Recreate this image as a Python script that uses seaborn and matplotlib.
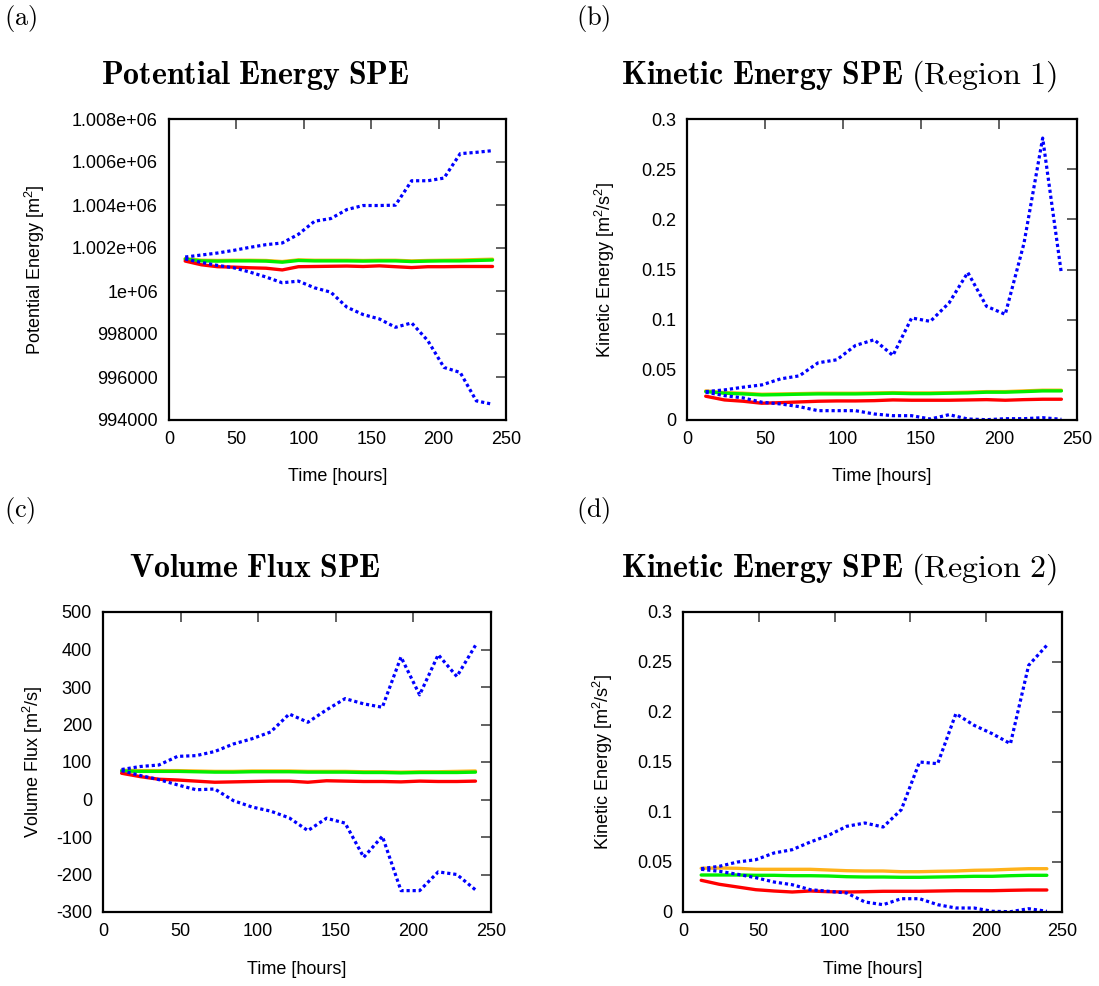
import numpy as np
import pandas as pd
import matplotlib
matplotlib.use("Agg")
import matplotlib.pyplot as plt
import seaborn as sns

# ---------------- data ----------------
time_h = [12, 24, 36, 48, 60, 72, 84, 96, 108, 120, 132, 144, 156, 168, 180, 192, 204, 216, 228, 240]

# (a) Potential energy
pe_upper = [1001580, 1001673, 1001767, 1001891, 1002031, 1002156, 1002233, 1002638, 1003245, 1003369,
            1003789, 1003976, 1003976, 1003992, 1005128, 1005128, 1005252, 1006388, 1006450, 1006528]
pe_lower = [1001487, 1001330, 1001190, 1001080, 1000880, 1000650, 1000382, 1000460, 1000148, 999946,
            999246, 998904, 998701, 998312, 998515, 997690, 996445, 996212, 994889, 994733]
pe_red = [1001393, 1001220, 1001130, 1001110, 1001080, 1001060, 1000980, 1001130, 1001140, 1001150,
          1001160, 1001140, 1001170, 1001130, 1001090, 1001130, 1001130, 1001140, 1001140, 1001140]
pe_green = [1001480, 1001400, 1001390, 1001400, 1001400, 1001390, 1001340, 1001420, 1001400, 1001400,
            1001400, 1001390, 1001400, 1001400, 1001370, 1001390, 1001400, 1001400, 1001420, 1001440]
pe_orange = [1001510, 1001430, 1001420, 1001430, 1001430, 1001420, 1001370, 1001450, 1001430, 1001430,
             1001430, 1001420, 1001430, 1001430, 1001400, 1001420, 1001430, 1001440, 1001460, 1001480]

# (b) Kinetic energy region 1
ke1_upper = [0.0283, 0.0300, 0.0327, 0.0350, 0.0410, 0.0440, 0.0570, 0.0600, 0.0743, 0.0800,
             0.0643, 0.1017, 0.0983, 0.1167, 0.1470, 0.1133, 0.1053, 0.1760, 0.2810, 0.1460]
ke1_lower = [0.0277, 0.0243, 0.0220, 0.0177, 0.0160, 0.0133, 0.0093, 0.0093, 0.0093, 0.0060,
             0.0043, 0.0043, 0.0010, 0.0053, 0.0010, 0.0003, 0.0013, 0.0013, 0.0023, 0.0007]
ke1_red = [0.0237, 0.0200, 0.0187, 0.0167, 0.0173, 0.0180, 0.0187, 0.0190, 0.0190, 0.0193,
           0.0200, 0.0197, 0.0197, 0.0197, 0.0200, 0.0203, 0.0197, 0.0203, 0.0207, 0.0207]
ke1_green = [0.0283, 0.0267, 0.0260, 0.0250, 0.0253, 0.0257, 0.0260, 0.0260, 0.0260, 0.0263,
             0.0267, 0.0263, 0.0263, 0.0267, 0.0270, 0.0277, 0.0277, 0.0283, 0.0290, 0.0290]
ke1_orange = [0.0290, 0.0273, 0.0267, 0.0257, 0.0260, 0.0263, 0.0267, 0.0267, 0.0267, 0.0270,
              0.0273, 0.0270, 0.0270, 0.0273, 0.0277, 0.0283, 0.0283, 0.0290, 0.0297, 0.0297]

# (c) Volume flux
vf_upper = [80, 88, 92, 115, 117, 128, 148, 162, 180, 228, 206, 239, 269, 255, 246, 380, 279, 386, 328, 411]
vf_lower = [77, 64, 53, 39, 26, 28, -3, -20, -31, -49, -83, -50, -63, -154, -98, -243, -243, -193, -200, -241]
vf_red = [70, 61, 54, 52, 49, 46, 47, 48, 49, 49, 46, 50, 49, 48, 48, 47, 49, 48, 48, 49]
vf_green = [76, 75, 75, 75, 74, 73, 73, 74, 74, 74, 73, 73, 73, 72, 72, 71, 72, 72, 72, 73]
vf_orange = [78, 77, 77, 77, 76, 75, 75, 76, 76, 76, 75, 75, 75, 74, 74, 73, 74, 74, 75, 76]

# (d) Kinetic energy region 2
ke2_upper = [0.0433, 0.0457, 0.0500, 0.0523, 0.0590, 0.0623, 0.0700, 0.0767, 0.0857, 0.0890,
             0.0850, 0.1023, 0.1500, 0.1483, 0.1983, 0.1867, 0.1783, 0.1683, 0.2467, 0.2667]
ke2_lower = [0.0427, 0.0407, 0.0377, 0.0343, 0.0300, 0.0273, 0.0223, 0.0207, 0.0190, 0.0100,
             0.0073, 0.0133, 0.0133, 0.0073, 0.0040, 0.0040, 0.0007, 0.0003, 0.0033, 0.0007]
ke2_red = [0.0317, 0.0277, 0.0250, 0.0223, 0.0210, 0.0200, 0.0210, 0.0203, 0.0200, 0.0203,
           0.0207, 0.0207, 0.0207, 0.0210, 0.0213, 0.0213, 0.0213, 0.0217, 0.0220, 0.0220]
ke2_green = [0.0370, 0.0370, 0.0370, 0.0367, 0.0367, 0.0363, 0.0363, 0.0360, 0.0353, 0.0350,
             0.0350, 0.0347, 0.0347, 0.0350, 0.0353, 0.0357, 0.0357, 0.0363, 0.0367, 0.0367]
ke2_orange = [0.0437, 0.0440, 0.0437, 0.0427, 0.0427, 0.0427, 0.0427, 0.0420, 0.0413, 0.0410,
              0.0410, 0.0403, 0.0403, 0.0407, 0.0410, 0.0417, 0.0420, 0.0427, 0.0433, 0.0433]

pe_ticks = [994000, 996000, 998000, 1000000, 1002000, 1004000, 1006000, 1008000]
pe_ticklabels = ["994000", "996000", "998000", "1e+06", "1.002e+06", "1.004e+06", "1.006e+06", "1.008e+06"]
ke_ticks = [0, 0.05, 0.1, 0.15, 0.2, 0.25, 0.3]
ke_ticklabels = ["0", "0.05", "0.1", "0.15", "0.2", "0.25", "0.3"]
vf_ticks = [-300, -200, -100, 0, 100, 200, 300, 400, 500]
vf_ticklabels = ["-300", "-200", "-100", "0", "100", "200", "300", "400", "500"]
x_ticks = [0, 50, 100, 150, 200, 250]

# ---------------- style ----------------
sns.set_style("white")
plt.rcParams["font.family"] = ["Liberation Sans", "DejaVu Sans"]
plt.rcParams["text.color"] = "black"
plt.rcParams["axes.labelcolor"] = "black"
plt.rcParams["axes.unicode_minus"] = False
plt.rcParams["mathtext.fontset"] = "custom"
plt.rcParams["mathtext.rm"] = "Liberation Sans"
plt.rcParams["mathtext.it"] = "Liberation Sans:italic"
plt.rcParams["mathtext.bf"] = "Liberation Sans:bold"

W, H = 1099, 986
fig = plt.figure(figsize=(W / 100, H / 100), dpi=100)

def px_axes(left, right, top, bottom):
    return fig.add_axes([left / W, (H - bottom) / H, (right - left) / W, (bottom - top) / H])

COL_BLUE = "#0000ff"
COL_RED = "#ff0000"
COL_GREEN = "#00ee00"
COL_ORANGE = "#ffb21a"

def draw_panel(ax, upper, lower, red, green, orange, yticks, yticklabels, ylabel,
               ylab_x, xlab_y):
    df = pd.DataFrame({"t": time_h, "upper": upper, "lower": lower,
                       "red": red, "green": green, "orange": orange})
    sns.lineplot(data=df, x="t", y="orange", ax=ax, color=COL_ORANGE, lw=2.4)
    sns.lineplot(data=df, x="t", y="green", ax=ax, color=COL_GREEN, lw=2.4)
    sns.lineplot(data=df, x="t", y="red", ax=ax, color=COL_RED, lw=2.4)
    for col in ["upper", "lower"]:
        sns.lineplot(data=df, x="t", y=col, ax=ax, color=COL_BLUE, lw=2.3,
                     linestyle=(0, (1.0, 0.9)))
    ax.set_xlim(0, 250)
    ax.set_ylim(yticks[0], yticks[-1])
    ax.set_xticks(x_ticks)
    ax.set_xticklabels([str(v) for v in x_ticks])
    ax.set_yticks(yticks)
    ax.set_yticklabels(yticklabels)
    ax.tick_params(direction="in", top=True, right=True, length=7, width=1.3,
                   color="#555555", labelsize=13, pad=8, labelcolor="black")
    for s in ax.spines.values():
        s.set_linewidth(1.6)
        s.set_color("black")
    ax.set_xlabel("Time [hours]", fontsize=13, color="black")
    ax.set_ylabel(ylabel, fontsize=13, color="black")
    ax.xaxis.set_label_coords(0.5, xlab_y)
    ax.yaxis.set_label_coords(ylab_x, 0.5)
    ax.grid(False)

ax_a = px_axes(169, 506, 119, 420)
draw_panel(ax_a, pe_upper, pe_lower, pe_red, pe_green, pe_orange, pe_ticks, pe_ticklabels,
           "Potential Energy [m$^2$]", -0.362, -0.16)
ax_b = px_axes(687, 1077, 119, 420)
draw_panel(ax_b, ke1_upper, ke1_lower, ke1_red, ke1_green, ke1_orange, ke_ticks, ke_ticklabels,
           "Kinetic Energy [m$^2$/s$^2$]", -0.179, -0.16)
ax_c = px_axes(103, 491, 612, 912)
draw_panel(ax_c, vf_upper, vf_lower, vf_red, vf_green, vf_orange, vf_ticks, vf_ticklabels,
           "Volume Flux [m$^2$/s]", -0.149, -0.165)
ax_d = px_axes(683, 1062, 612, 912)
draw_panel(ax_d, ke2_upper, ke2_lower, ke2_red, ke2_green, ke2_orange, ke_ticks, ke_ticklabels,
           "Kinetic Energy [m$^2$/s$^2$]", -0.179, -0.165)

def ftext(x, y, s, **kw):
    fig.text(x / W, 1 - y / H, s, math_fontfamily="cm", color="black", **kw)

# panel letters
ftext(4, 18, r"$\mathrm{(a)}$", fontsize=19, ha="left", va="center")
ftext(576, 18, r"$\mathrm{(b)}$", fontsize=19, ha="left", va="center")
ftext(4, 510, r"$\mathrm{(c)}$", fontsize=19, ha="left", va="center")
ftext(576, 510, r"$\mathrm{(d)}$", fontsize=19, ha="left", va="center")

# titles
ftext(255, 84, r"$\mathbf{Potential\ Energy\ SPE}$", fontsize=23, ha="center", va="baseline")
ftext(839, 84, r"$\mathbf{Kinetic\ Energy\ SPE}\ \mathrm{(Region\ 1)}$", fontsize=23, ha="center", va="baseline")
ftext(255, 577, r"$\mathbf{Volume\ Flux\ SPE}$", fontsize=23, ha="center", va="baseline")
ftext(839, 577, r"$\mathbf{Kinetic\ Energy\ SPE}\ \mathrm{(Region\ 2)}$", fontsize=23, ha="center", va="baseline")

fig.savefig("out.png", dpi=100)
